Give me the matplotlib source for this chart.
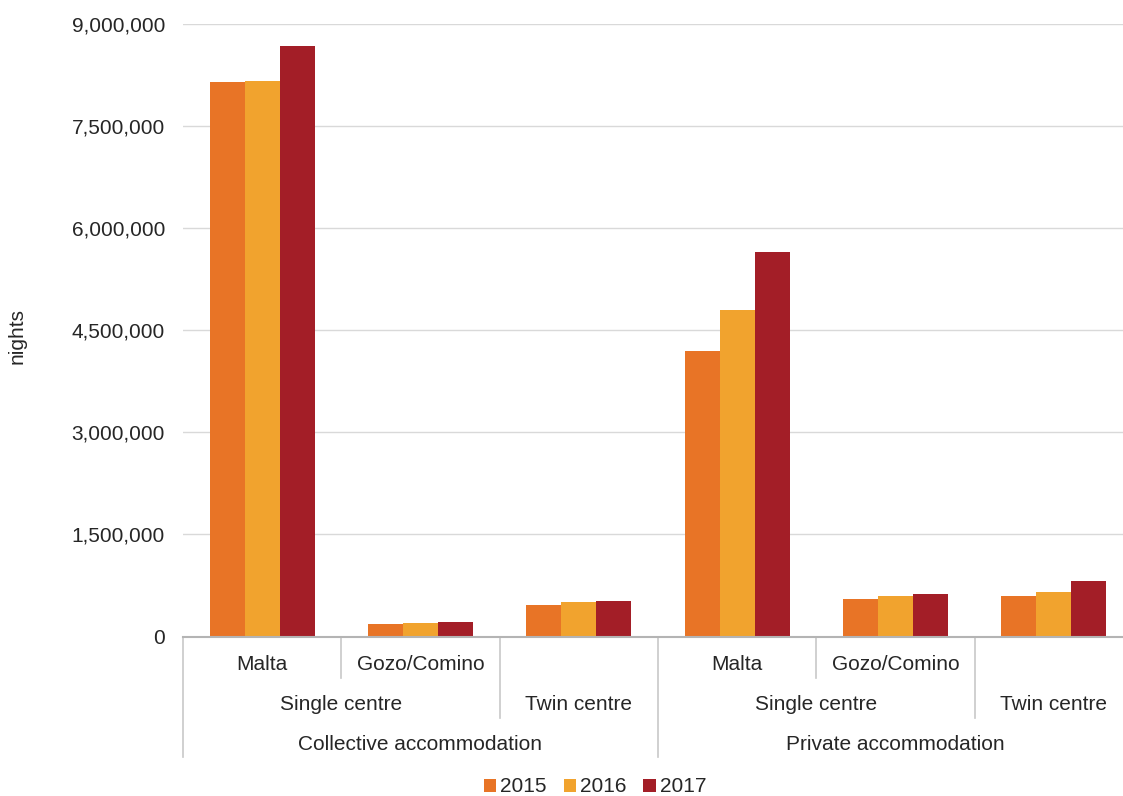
import numpy as np
import matplotlib
matplotlib.use("Agg")
import matplotlib.pyplot as plt
from matplotlib.ticker import FuncFormatter

# %% Data

years = ["2015", "2016", "2017"]
level1 = ["Malta", "Gozo/Comino", "", "Malta", "Gozo/Comino", ""]
level2 = ["Single centre", "Twin centre", "Single centre", "Twin centre"]
level2_span = [(0, 2), (2, 3), (3, 5), (5, 6)]
level3 = ["Collective accommodation", "Private accommodation"]
level3_span = [(0, 3), (3, 6)]

nights_2015 = [8140000, 190000, 460000, 4190000, 550000, 600000]
nights_2016 = [8150000, 200000, 510000, 4790000, 600000, 660000]
nights_2017 = [8670000, 210000, 520000, 5650000, 620000, 820000]

colors = ["#E87426", "#F1A32E", "#A31E27"]

# %% Plot

plt.rcParams['font.family'] = ['Liberation Sans', 'DejaVu Sans']
txt = "#262626"

fig = plt.figure(figsize=(11.23, 7.96), dpi=100)
ax = fig.add_axes([183/1123, 1 - 636.5/796, 940/1123, 613/796])

x = np.arange(len(level1)) + 0.5
w = 35/158.3
for k, (vals, c) in enumerate(zip([nights_2015, nights_2016, nights_2017], colors)):
    ax.bar(x + (k - 1)*w, vals, width=w, color=c, label=years[k], zorder=3)

ax.set_xlim(0, 940/158.3)
ax.set_ylim(0, 9000000)
ax.set_yticks(np.arange(0, 9000001, 1500000))
ax.yaxis.set_major_formatter(FuncFormatter(lambda v, p: "{:,.0f}".format(v)))
ax.tick_params(axis='y', length=0, pad=13, labelsize=15, labelcolor=txt)
ax.set_xticks([])
ax.grid(axis='y', color="#D9D9D9", lw=1, zorder=0)
for s in ['left', 'right', 'top']:
    ax.spines[s].set_visible(False)
ax.spines['bottom'].set_color("#B4B4B4")
ax.spines['bottom'].set_linewidth(1.5)
ax.spines['bottom'].set_zorder(4)

ax.set_ylabel("nights", fontsize=15, color=txt)
ax.yaxis.set_label_coords(-0.166, 0.49)

# hierarchical category axis
tr = ax.get_xaxis_transform()
def yfrac(py):
    return (636.5 - py)/613

for i, lab in enumerate(level1):
    if lab:
        ax.text(i + 0.5, yfrac(664), lab, transform=tr, ha='center', va='center', fontsize=15, color=txt)
for lab, (a, b) in zip(level2, level2_span):
    ax.text((a + b)/2, yfrac(705), lab, transform=tr, ha='center', va='center', fontsize=15, color=txt)
for lab, (a, b) in zip(level3, level3_span):
    ax.text((a + b)/2, yfrac(745), lab, transform=tr, ha='center', va='center', fontsize=15, color=txt)

line_ends = {0: 757, 1: 678, 2: 718, 3: 757, 4: 678, 5: 718, 6: 757}
for xv, end in line_ends.items():
    ax.plot([xv, xv], [0, yfrac(end)], transform=tr, color="#C8C8C8", lw=1.2, clip_on=False)

fig.legend(loc='center', bbox_to_anchor=(0.53, 1 - 787/796), ncol=3, frameon=False,
           fontsize=15, handlelength=0.6, handleheight=0.6, handletextpad=0.2,
           columnspacing=0.8, labelcolor=txt)

plt.savefig("out.png", dpi=100)
plt.close()
